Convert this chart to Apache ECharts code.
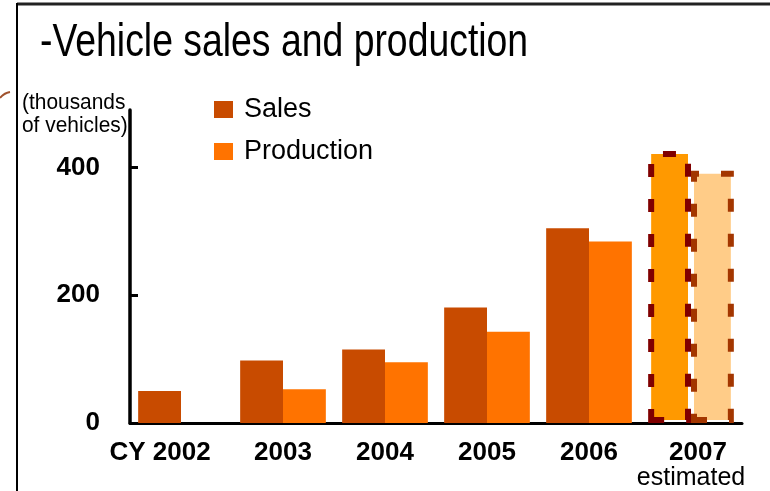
<!DOCTYPE html>
<html>
<head>
<meta charset="utf-8">
<title>Vehicle sales and production</title>
<script src="https://cdn.jsdelivr.net/npm/echarts@6/dist/echarts.min.js"></script>
<style>
  html, body { margin: 0; padding: 0; background: #fff; }
  #main { width: 770px; height: 491px; }
</style>
</head>
<body>
<div id="main"></div>
<script>
// 数据
var years = ['CY 2002', '2003', '2004', '2005', '2006', '2007'];
var sales = [50, 98, 115, 181, 305, 426];
var production = [null, 53, 95, 143, 284, 395];
var yTicks = [0, 200, 400];

var salesColor = '#C84B00';
var prodColor = '#FF7300';

// 2007 是估计值，用虚线边框
function withEstimate(arr, fill, border) {
    return arr.map(function (v, i) {
        if (i !== arr.length - 1) return v;
        return {
            value: v,
            itemStyle: {
                color: fill,
                borderColor: border,
                borderWidth: 6,
                borderType: [13, 22]
            }
        };
    });
}

var chart = echarts.init(document.getElementById('main'));
chart.setOption({
    animation: false,
    textStyle: { fontFamily: 'Liberation Sans, Arial, sans-serif' },
    grid: { left: 130, right: 28, top: 110, bottom: 65 },
    legend: {
        orient: 'vertical',
        left: 214,
        top: 96,
        padding: 0,
        icon: 'rect',
        itemWidth: 19,
        itemHeight: 17,
        itemGap: 15,
        textStyle: { fontSize: 27, color: '#000', padding: [0, 0, 0, 6] },
        data: ['Sales', 'Production']
    },
    xAxis: {
        type: 'category',
        data: years,
        axisLine: { lineStyle: { color: '#000', width: 3 } },
        axisTick: { inside: true, length: 7, lineStyle: { color: '#000', width: 3 } },
        axisLabel: {
            margin: 16,
            interval: 0,
            color: '#000',
            fontSize: 26,
            fontWeight: 'bold',
            lineHeight: 28,
            formatter: function (v) {
                if (v === '2007') return '{b|2007}\n{e|estimated}';
                if (v === 'CY 2002') return '{c|CY 2002}';
                return v;
            },
            rich: {
                b: { fontSize: 26, fontWeight: 'bold', color: '#000', lineHeight: 28, padding: [0, 0, 0, 14] },
                e: { fontSize: 25, fontWeight: 'normal', color: '#000', lineHeight: 23 },
                c: { fontSize: 26, fontWeight: 'bold', color: '#000', lineHeight: 28, padding: [0, 42, 0, 0] }
            }
        }
    },
    yAxis: {
        type: 'value',
        min: 0,
        max: 490,
        interval: 200,
        splitLine: { show: false },
        axisLine: { show: true, lineStyle: { color: '#000', width: 3.5 } },
        axisTick: { show: true, inside: true, length: 8, customValues: [200, 400], lineStyle: { color: '#000', width: 3 } },
        axisLabel: {
            margin: 30,
            color: '#000',
            fontSize: 26,
            fontWeight: 'bold',
            customValues: yTicks
        }
    },
    series: [
        {
            name: 'Sales',
            type: 'bar',
            barGap: '0%',
            barCategoryGap: '16%',
            itemStyle: { color: salesColor },
            data: withEstimate(sales, '#FF9900', '#800000')
        },
        {
            name: 'Production',
            type: 'bar',
            itemStyle: { color: prodColor },
            data: withEstimate(production, '#FFCC88', '#A33600')
        }
    ],
    graphic: [
        { type: 'line', shape: { x1: 17, y1: 4, x2: 770, y2: 4 }, style: { stroke: '#222', lineWidth: 3 } },
        { type: 'line', shape: { x1: 17, y1: 3, x2: 17, y2: 491 }, style: { stroke: '#000', lineWidth: 2 } },
        { type: 'bezierCurve', shape: { x1: 0, y1: 98, x2: 10, y2: 92, cpx1: 4, cpy1: 93 }, style: { stroke: '#A0522D', lineWidth: 2, fill: null } },
        {
            type: 'text', x: 40, y: 20, scaleX: 0.795,
            style: { text: '-Vehicle sales and production', fontSize: 47, fill: '#000', fontFamily: 'Liberation Sans, Arial, sans-serif' }
        },
        {
            type: 'text', x: 22, y: 91, scaleX: 0.95,
            style: { text: '(thousands\nof vehicles)', fontSize: 22, lineHeight: 23, fill: '#000', fontFamily: 'Liberation Sans, Arial, sans-serif' }
        }
    ]
});
</script>
</body>
</html>
